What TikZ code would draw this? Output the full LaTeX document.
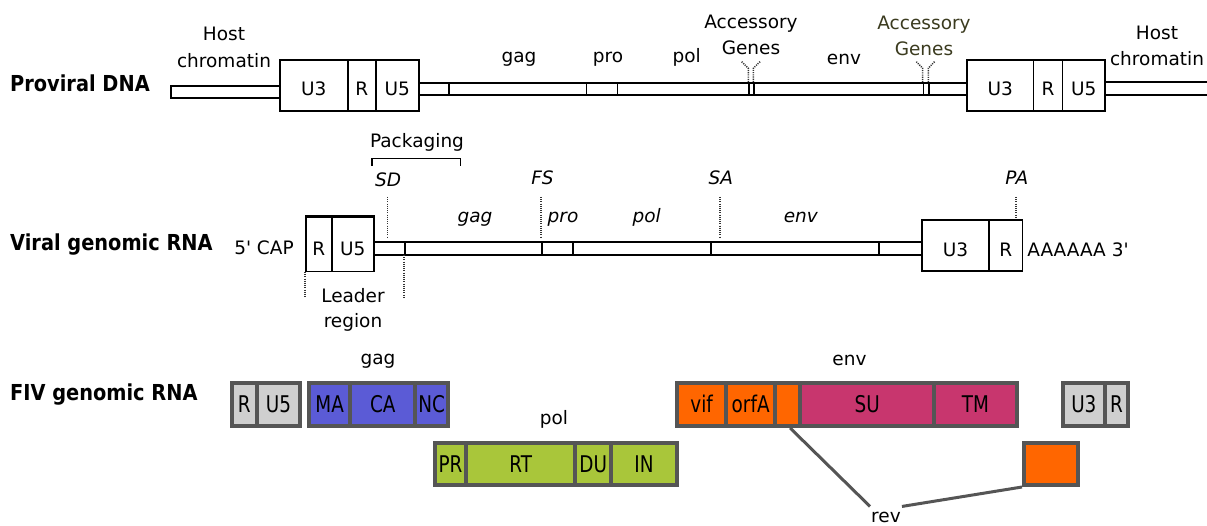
\documentclass[tikz,border=0pt]{standalone}
\usepackage{fontspec}
\setmainfont{DejaVu Sans}
\newfontfamily\lblfont{DejaVu Sans}[FakeStretch=0.88]
\newfontfamily\boxfont{DejaVu Sans}[FakeStretch=0.8]
\usetikzlibrary{calc}
\definecolor{bordergray}{HTML}{555555}
\definecolor{cellgray}{HTML}{CFCFCF}
\definecolor{gagblue}{HTML}{5B5BD6}
\definecolor{polgreen}{HTML}{A9C63A}
\definecolor{envorange}{HTML}{FF6600}
\definecolor{envmag}{HTML}{C8366E}
\definecolor{olive}{HTML}{3B3B1F}
\newcommand\mybox[7][]{\node[#1,anchor=north west,minimum width={(#5)-(#4)},minimum height={(#7)-(#6)}] (#2) at (#4,#6) {#3};}
\begin{document}
\begin{tikzpicture}[x=1pt,y=-1pt,
  txt/.style={font=\fontsize{18.5}{22}\selectfont,inner sep=0pt,anchor=base},
  itxt/.style={txt,font=\fontsize{18.5}{22}\selectfont\itshape},
  rowlbl/.style={font=\lblfont\bfseries\fontsize{22}{26}\selectfont,inner sep=0pt,anchor=base west},
  bar/.style={draw,line width=1.6pt,inner sep=0pt},
  dna/.style={bar,font=\fontsize{18.5}{22}\selectfont,text height=20pt,text depth=0pt},
  rna/.style={bar,font=\fontsize{18.5}{22}\selectfont,text height=23pt,text depth=0pt},
  fiv/.style={draw=bordergray,line width=4pt,inner sep=0pt,font=\boxfont\fontsize{23}{27}\selectfont,text height=16.8pt,text depth=0pt},
  dots/.style={draw=black!80,line width=1.5pt,dash pattern=on 1.1pt off 1.1pt},
  revline/.style={draw=bordergray,line width=3pt}]
\useasboundingbox (0,0) rectangle (1207,526);

% row labels
\node[rowlbl] (lprov) at (10,91.7) {Proviral DNA};
\node[rowlbl] (lrna) at (10,251) {Viral genomic RNA};
\node[rowlbl] (lfiv) at (10,400) {FIV genomic RNA};

% ---------- Row 1: proviral DNA ----------
\mybox[bar]{hcL}{}{170}{279}{85}{97.5}
\mybox[dna]{aU3}{U3}{279}{347}{59}{110}
\mybox[dna]{aR}{R}{347}{375}{59}{110}
\mybox[dna]{aU5}{U5}{375}{418}{59}{110}
\mybox[bar]{s1}{}{418}{448}{82}{94}
\mybox[bar]{s2}{}{448}{585.7}{82}{94}
\mybox[bar]{s3}{}{585.7}{616.7}{82}{94}
\mybox[bar]{s4}{}{616.7}{748.3}{82}{94}
\mybox[bar]{s5}{}{748.3}{753.3}{82}{94}
\mybox[bar]{s6}{}{753.3}{922.7}{82}{94}
\mybox[bar]{s7}{}{922.7}{928.3}{82}{94}
\mybox[bar]{s8}{}{928.3}{966}{82}{94}
\mybox[dna]{bU3}{U3}{966}{1032.7}{59}{110}
\mybox[dna]{bR}{R}{1032.7}{1061.7}{59}{110}
\mybox[dna]{bU5}{U5}{1061.7}{1104}{59}{110}
\coordinate (hcR1) at (1207,82);
\coordinate (hcR2) at (1207,95);
\draw[line width=1.6pt] (bU5.east |- hcR1) -- (hcR1);
\draw[line width=1.6pt] (bU5.east |- hcR2) -- (hcR2);

\node[txt] (hostL1) at (224,40.7) {Host};
\node[txt] (hostL2) at (224,67.3) {chromatin};
\node[txt] (hostR1) at (1157,40) {Host};
\node[txt] (hostR2) at (1157,66) {chromatin};
\node[txt] (g1) at (519,63) {gag};
\node[txt] (p1) at (608,63) {pro};
\node[txt] (po1) at (686.7,63) {pol};
\node[txt] (e1) at (844,65) {env};
\node[txt] (acc1) at (751,28.3) {Accessory};
\node[txt] (gen1) at (751,55) {Genes};
\node[txt,text=olive] (acc2) at (924,29.3) {Accessory};
\node[txt,text=olive] (gen2) at (924,56) {Genes};
\draw[dots] (741.7,61.7) -- (748.3,68.3) -- (748.3,82);
\draw[dots] (760,61.7) -- (753.3,68.3) -- (753.3,82);
\draw[dots] (916.3,61.7) -- (922.7,68.3) -- (922.7,82);
\draw[dots] (934.5,61.7) -- (928.3,68.3) -- (928.3,82);

% ---------- Row 2: viral genomic RNA ----------
\mybox[rna]{cR}{R}{305}{331}{216.7}{270.7}
\mybox[rna]{cU5}{U5}{331}{373}{216.7}{270.7}
\draw[line width=2.8pt] (cR.north west) -- (cU5.north east);
\mybox[bar]{t1}{}{373}{404}{241}{254.3}
\mybox[bar]{t2}{}{404}{541}{241}{254.3}
\mybox[bar]{t3}{}{541}{572.3}{241}{254.3}
\mybox[bar]{t4}{}{572.3}{710}{241}{254.3}
\mybox[bar]{t5}{}{710}{878}{241}{254.3}
\mybox[bar]{t6}{}{878}{921}{241}{254.3}
\mybox[rna]{dU3}{U3}{921}{988.3}{219}{270}
\mybox[rna]{dR}{R}{988.3}{1021.7}{219}{270}

\node[txt] (cap) at (264,255) {5\textquotesingle\ CAP};
\node[txt] (polyA) at (1078,256.7) {AAAAAA 3\textquotesingle};
\node[itxt] (SD) at (388,186.7) {SD};
\node[itxt] (FS) at (542.5,185) {FS};
\node[itxt] (SA) at (720.8,185) {SA};
\node[itxt] (PA) at (1016.7,185) {PA};
\node[itxt] (g2) at (475,223) {gag};
\node[itxt] (p2) at (563,223) {pro};
\node[itxt] (po2) at (646.7,223) {pol};
\node[itxt] (e2) at (800.8,223) {env};
\draw[dots] (387.7,197) -- (387.7,238);
\draw[dots] (541,197) -- (541,238);
\draw[dots] (720,197) -- (720,238);
\draw[dots] (1016,197) -- (1016,217);
\node[txt] (pack) at (417,148) {Packaging};
\draw[line width=1.4pt] (372,166) -- (372,158.3) -- (460.7,158.3) -- (460.7,166);
\draw[dots] (305,272) -- (305,298);
\draw[dots] (404,255) -- (404,298);
\node[txt] (lead1) at (353,303) {Leader};
\node[txt] (lead2) at (353,327.5) {region};

% ---------- Row 3: FIV genomic RNA ----------
\mybox[fiv,fill=cellgray]{fR}{R}{229.7}{255}{381}{424}
\mybox[fiv,fill=cellgray]{fU5}{U5}{255}{298}{381}{424}
\mybox[fiv,fill=gagblue]{MA}{MA}{307}{348.3}{381}{424}
\mybox[fiv,fill=gagblue]{CA}{CA}{348.3}{413.3}{381}{424}
\mybox[fiv,fill=gagblue]{NC}{NC}{413.3}{446}{381}{424}
\mybox[fiv,fill=polgreen]{PR}{PR}{432.7}{464.3}{441}{483}
\mybox[fiv,fill=polgreen]{RT}{RT}{464.3}{573.3}{441}{483}
\mybox[fiv,fill=polgreen]{DU}{DU}{573.3}{609.3}{441}{483}
\mybox[fiv,fill=polgreen]{IN}{IN}{609.3}{674.7}{441}{483}
\mybox[fiv,fill=envorange]{vif}{vif}{675.3}{724}{381}{424}
\mybox[fiv,fill=envorange]{orfA}{orfA}{724}{773.3}{381}{424}
\mybox[fiv,fill=envorange]{revA}{}{773.3}{798.3}{381}{424}
\mybox[fiv,fill=envmag]{SU}{SU}{798.3}{932.3}{381}{424}
\mybox[fiv,fill=envmag]{TM}{TM}{932.3}{1014.7}{381}{424}
\mybox[fiv,fill=cellgray]{fU3}{U3}{1061}{1102.7}{381}{424}
\mybox[fiv,fill=cellgray]{fR2}{R}{1102.7}{1126.3}{381}{424}
\mybox[fiv,fill=envorange]{revB}{}{1022}{1075.7}{441}{483}

\node[txt] (g3) at (378,365) {gag};
\node[txt] (po3) at (554,424.5) {pol};
\node[txt] (e3) at (849.5,366) {env};
\node[txt,inner xsep=1pt,inner ysep=5pt] (rev) at (886,522) {rev};
\draw[revline] ($(revA.south west)!0.58!(revA.south east)$) -- (rev.north west);
\draw[revline] (rev.north east) -- (revB.south west);
\end{tikzpicture}
\end{document}
